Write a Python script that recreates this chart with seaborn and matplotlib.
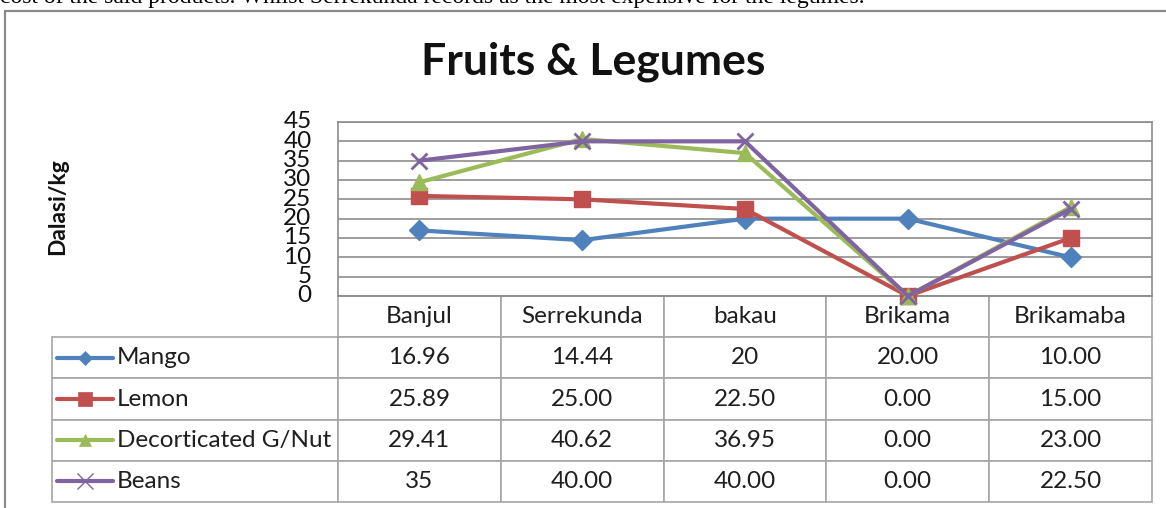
import matplotlib
matplotlib.use("Agg")
import matplotlib.pyplot as plt
import matplotlib.patches as mpatches
from matplotlib.lines import Line2D
import pandas as pd
import seaborn as sns

# ---------------------------------------------------------------------------
# Data (values kept as printed in the table, converted for plotting)
# ---------------------------------------------------------------------------

CITIES = ["Banjul", "Serrekunda", "bakau", "Brikama", "Brikamaba"]
PRODUCTS = ["Mango", "Lemon", "Decorticated G/Nut", "Beans"]

MANGO = ["16.96", "14.44", "20", "20.00", "10.00"]
LEMON = ["25.89", "25.00", "22.50", "0.00", "15.00"]
GNUT = ["29.41", "40.62", "36.95", "0.00", "23.00"]
BEANS = ["35", "40.00", "40.00", "0.00", "22.50"]

Y_TICKS = [0, 5, 10, 15, 20, 25, 30, 35, 40, 45]

TOP_TEXT = ("cost of the said products. Whilst Serrekunda records as the most "
            "expensive for the legumes.")

COLORS = {
    "Mango": "#4F81BD",
    "Lemon": "#C0504D",
    "Decorticated G/Nut": "#9BBB59",
    "Beans": "#8064A2",
}
MARKERS = {"Mango": "D", "Lemon": "s", "Decorticated G/Nut": "^", "Beans": "x"}
MSIZE = {"Mango": 10.5, "Lemon": 12, "Decorticated G/Nut": 12, "Beans": 12}
LEG_MSIZE = {"Mango": 7.5, "Lemon": 10, "Decorticated G/Nut": 9, "Beans": 11}

GRID = "#8c8c8c"
EDGE = "#a6a6a6"

sns.set_theme(style="white")
plt.rcParams["font.family"] = ["Lato", "DejaVu Sans"]

W, H = 1166, 508
fig = plt.figure(figsize=(W / 100, H / 100), dpi=100)

# pixel layout helpers
PL, PR, PT, PB = 338, 1152, 122, 296
ax = fig.add_axes([PL / W, 1 - PB / H, (PR - PL) / W, (PB - PT) / H])

series = dict(zip(PRODUCTS, [MANGO, LEMON, GNUT, BEANS]))

for p in PRODUCTS:
    sub = pd.DataFrame({"city": CITIES, "price": [float(v) for v in series[p]]})
    sns.lineplot(
        data=sub, x="city", y="price", sort=False, color=COLORS[p],
        marker=MARKERS[p], markersize=MSIZE[p], markeredgecolor=COLORS[p],
        markeredgewidth=2 if p == "Beans" else 1, linewidth=3,
        clip_on=False, zorder=5, ax=ax,
    )

ax.set_xlim(-0.5, len(CITIES) - 0.5)
ax.set_ylim(0, 45)
ax.set_yticks(Y_TICKS)
ax.set_xticks([])
ax.set_xlabel("")
ax.set_ylabel("")
ax.yaxis.grid(True, color=GRID, linewidth=1.2)
ax.set_axisbelow(True)
for s in ax.spines.values():
    s.set_color(GRID)
    s.set_linewidth(1.2)
ax.tick_params(axis="y", length=0, pad=19, labelsize=17.5, labelcolor="#111111")
for lab in ax.get_yticklabels():
    lab.set_verticalalignment("center")

# ---------------------------------------------------------------------------
# Data table underneath
# ---------------------------------------------------------------------------

TL, TB = 52, 502
label_w = PL - TL
col_w = (PR - PL) / len(CITIES)
total_w = PR - TL
rows = [[p] + series[p] for p in PRODUCTS]
tbl = ax.table(
    cellText=rows,
    colLabels=[""] + CITIES,
    colWidths=[label_w / total_w] + [col_w / total_w] * len(CITIES),
    cellLoc="center",
    bbox=[(TL - PL) / (PR - PL), -(TB - PB) / (PB - PT),
          total_w / (PR - PL), (TB - PB) / (PB - PT)],
)
tbl.auto_set_font_size(False)
tbl.set_fontsize(17.5)
for (r, c), cell in tbl.get_celld().items():
    cell.set_edgecolor(EDGE)
    cell.set_linewidth(1.2)
    cell.get_text().set_color("#1f1f1f")
    if r == 0 and c == 0:
        cell.visible_edges = "open"
    elif c == 0:
        cell.PAD = (117 - TL) / label_w
        cell.get_text().set_horizontalalignment("left")

# legend keys inside the label column
row_h = (TB - PB) / (len(PRODUCTS) + 1)
for i, p in enumerate(PRODUCTS):
    yc = PB + row_h * (i + 1.5)
    ya = (PB - yc) / (PB - PT)
    xs = [(57 - PL) / (PR - PL), (113 - PL) / (PR - PL)]
    ax.add_line(Line2D(xs, [ya, ya], transform=ax.transAxes, color=COLORS[p],
                       linewidth=3, clip_on=False))
    ax.add_line(Line2D([(xs[0] + xs[1]) / 2], [ya], transform=ax.transAxes,
                       color=COLORS[p], marker=MARKERS[p],
                       markersize=LEG_MSIZE[p],
                       markeredgewidth=1 if p == "Beans" else 0.5,
                       markeredgecolor=COLORS[p], clip_on=False))

# ---------------------------------------------------------------------------
# Titles, frame, page text
# ---------------------------------------------------------------------------

fig.text(593 / W, 1 - 62 / H, "Fruits & Legumes", ha="center", va="center",
         fontsize=32, fontweight="bold", color="#111111")
fig.text(58 / W, 1 - 207 / H, "Dalasi/kg", ha="center", va="center",
         rotation=90, fontsize=16.5, fontweight="bold", color="#111111")

fig.add_artist(mpatches.Rectangle(
    (5 / W, -0.1), 1.2, 1 - 11 / H + 0.1, transform=fig.transFigure,
    fill=False, edgecolor="#8a8a8a", linewidth=1.6))

fig.text(0.0, 1 - 3.5 / H, TOP_TEXT, ha="left", va="baseline",
         fontsize=17, family="Liberation Serif", color="black")

fig.savefig("out.png", dpi=100)
